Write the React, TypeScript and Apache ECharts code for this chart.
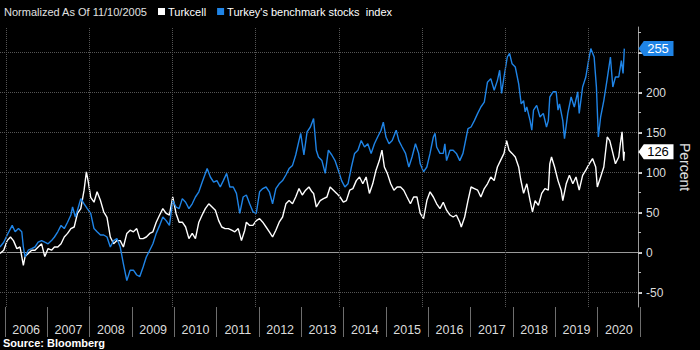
import React, { useEffect, useRef } from "react";
import * as echarts from "echarts";

const turkcellDates = [
  "2005-11-10","2005-12-13","2006-01-12","2006-02-10","2006-03-08","2006-04-07","2006-05-05","2006-06-03","2006-06-18","2006-07-16",
  "2006-08-15","2006-09-13","2006-10-11","2006-11-10","2006-12-08","2007-01-06","2007-02-05","2007-03-03","2007-04-01","2007-04-30",
  "2007-05-28","2007-06-26","2007-07-25","2007-08-23","2007-09-21","2007-10-20","2007-11-18","2007-12-08","2007-12-25","2008-01-15",
  "2008-02-13","2008-03-11","2008-04-10","2008-05-08","2008-06-06","2008-07-05","2008-08-03","2008-09-01","2008-09-30","2008-10-28",
  "2008-11-27","2008-12-26","2009-01-24","2009-02-22","2009-03-21","2009-04-19","2009-05-17","2009-06-16","2009-07-14","2009-08-12",
  "2009-09-11","2009-10-09","2009-11-07","2009-12-06","2010-01-04","2010-02-02","2010-03-01","2010-03-29","2010-04-27","2010-05-26",
  "2010-06-24","2010-07-22","2010-08-21","2010-09-19","2010-10-17","2010-11-16","2010-12-15","2011-01-13","2011-02-11","2011-03-10",
  "2011-04-08","2011-05-07","2011-06-05","2011-07-03","2011-08-02","2011-08-30","2011-09-28","2011-10-12","2011-11-10","2011-12-09",
  "2012-01-07","2012-02-05","2012-03-04","2012-04-02","2012-05-01","2012-05-29","2012-06-27","2012-07-26","2012-08-25","2012-09-23",
  "2012-10-21","2012-11-20","2012-12-18","2013-01-16","2013-02-14","2013-03-15","2013-04-13","2013-05-10","2013-05-24","2013-06-17",
  "2013-07-21","2013-08-19","2013-09-18","2013-10-16","2013-11-14","2013-12-13","2014-01-11","2014-02-09","2014-03-08","2014-04-06",
  "2014-05-04","2014-06-03","2014-07-01","2014-07-30","2014-08-28","2014-09-26","2014-10-25","2014-11-23","2014-12-22","2015-01-14",
  "2015-02-04","2015-03-02","2015-04-01","2015-04-29","2015-05-27","2015-06-26","2015-07-24","2015-08-22","2015-09-21","2015-10-19",
  "2015-11-17","2015-12-16","2016-01-14","2016-02-12","2016-03-11","2016-04-09","2016-05-08","2016-06-06","2016-07-05","2016-08-03",
  "2016-09-02","2016-09-30","2016-10-28","2016-11-27","2016-12-10","2017-01-09","2017-02-07","2017-03-06","2017-04-04","2017-05-03",
  "2017-05-31","2017-06-30","2017-07-28","2017-08-26","2017-09-25","2017-10-23","2017-11-19","2017-12-20","2018-01-12","2018-02-02",
  "2018-03-01","2018-03-29","2018-04-28","2018-05-15","2018-06-10","2018-07-08","2018-08-06","2018-08-27","2018-09-19","2018-10-18",
  "2018-11-16","2018-12-14","2019-01-13","2019-01-26","2019-02-10","2019-03-09","2019-04-08","2019-05-06","2019-05-20","2019-06-19",
  "2019-07-17","2019-08-16","2019-09-13","2019-10-11","2019-11-10","2019-12-08","2020-01-07","2020-02-05","2020-03-04","2020-03-18",
  "2020-04-16","2020-05-14","2020-06-13","2020-07-05","2020-07-26","2020-08-24","2020-09-22","2020-10-06","2020-10-21","2020-11-05",
  "2020-11-10",
];
const turkcellValues = [
  -1, 3, 15, 19.5, 15, 5, 7, -16, -5, -1,
  3, 3, 7, 11, -5, 5, 3, 7, 7, 11,
  19.5, 24, 30, 32, 49, 55, 78, 101, 88, 69,
  63, 76, 65, 51, 44, 19.5, 11, 15, 15, 7,
  24, 28, 26, 30, 17.5, 17.5, 19.5, 24, 26, 38,
  47, 55, 49, 47, 69.5, 49, 38, 38, 32, 17.5,
  24, 17.5, 38, 47, 55, 61, 57, 53, 40, 32,
  30, 30, 28, 26, 30, 15, 28, 38, 34, 34,
  40, 42.5, 38, 32, 26, 19.5, 28, 38, 44.5, 61,
  65, 61, 69.5, 80, 72, 78, 82, 76, 74, 57,
  65, 67.5, 69.5, 82, 78, 74, 69.5, 63, 65, 78,
  80, 90, 94.5, 86, 94.5, 74, 86, 103, 115, 128,
  107, 99, 86, 78, 82, 82, 78, 69.5, 61, 69.5,
  69.5, 49, 42.5, 65, 76, 69.5, 61, 55, 63, 53,
  47, 44.5, 47, 38, 32, 44.5, 65, 82, 80, 78,
  69.5, 80, 86, 94.5, 90, 107, 115, 124, 140, 128,
  124, 119.5, 107, 92, 74, 86, 65, 51, 65, 59,
  74, 80, 78, 111, 119.5, 107, 90, 78, 65, 86,
  96.6, 86, 94.5, 78, 96.6, 103, 111, 117.5, 107, 82,
  94.5, 107, 144.5, 140, 128, 111, 119.5, 136, 151, 115,
  126,
];

const indexDates = [
  "2005-11-10","2005-12-13","2006-01-12","2006-02-25","2006-03-23","2006-04-21","2006-05-20","2006-06-03","2006-06-18","2006-07-16",
  "2006-08-15","2006-09-13","2006-10-11","2006-11-10","2006-12-08","2007-01-06","2007-02-05","2007-03-03","2007-04-01","2007-04-30",
  "2007-05-28","2007-06-26","2007-07-25","2007-08-09","2007-09-02","2007-09-21","2007-10-20","2007-11-18","2007-12-16","2008-01-15",
  "2008-02-13","2008-03-11","2008-04-10","2008-05-08","2008-06-06","2008-07-05","2008-08-03","2008-09-01","2008-09-30","2008-10-28",
  "2008-11-27","2008-12-26","2009-01-24","2009-02-22","2009-03-21","2009-04-19","2009-05-17","2009-06-16","2009-07-14","2009-08-12",
  "2009-09-11","2009-10-09","2009-11-07","2009-12-06","2010-01-04","2010-02-02","2010-03-01","2010-03-29","2010-04-27","2010-05-26",
  "2010-06-24","2010-07-22","2010-08-21","2010-09-19","2010-10-17","2010-11-02","2010-11-30","2010-12-29","2011-01-27","2011-02-25",
  "2011-03-24","2011-04-22","2011-05-20","2011-06-19","2011-07-17","2011-08-15","2011-09-14","2011-10-12","2011-11-10","2011-12-09",
  "2012-01-07","2012-02-05","2012-03-04","2012-04-02","2012-05-01","2012-05-29","2012-06-27","2012-07-26","2012-08-25","2012-09-23",
  "2012-10-21","2012-11-20","2012-12-18","2013-01-16","2013-01-31","2013-02-28","2013-03-28","2013-04-26","2013-05-24","2013-06-17",
  "2013-07-06","2013-08-05","2013-09-03","2013-10-01","2013-10-31","2013-11-28","2013-12-27","2014-01-25","2014-02-23","2014-03-22",
  "2014-04-21","2014-05-19","2014-06-17","2014-07-16","2014-08-14","2014-09-12","2014-10-11","2014-11-09","2014-12-07","2015-01-06",
  "2015-01-26","2015-02-18","2015-03-17","2015-04-14","2015-05-19","2015-06-11","2015-07-10","2015-08-09","2015-09-07","2015-10-05",
  "2015-11-04","2015-12-02","2015-12-16","2016-01-14","2016-02-12","2016-03-11","2016-04-09","2016-04-24","2016-05-08","2016-06-06",
  "2016-07-05","2016-07-19","2016-08-03","2016-09-02","2016-09-30","2016-10-28","2016-11-27","2016-12-25","2017-01-23","2017-02-07",
  "2017-03-06","2017-04-04","2017-05-03","2017-05-31","2017-06-30","2017-07-28","2017-08-26","2017-09-25","2017-10-23","2017-11-12",
  "2017-11-29","2017-12-20","2018-01-18","2018-02-07","2018-03-01","2018-03-29","2018-04-28","2018-05-20","2018-06-10","2018-06-24",
  "2018-07-08","2018-08-06","2018-08-21","2018-09-05","2018-10-03","2018-11-01","2018-11-30","2018-12-28","2019-01-13","2019-01-26",
  "2019-02-24","2019-03-23","2019-04-08","2019-04-21","2019-05-20","2019-06-04","2019-07-03","2019-08-01","2019-08-29","2019-09-28",
  "2019-10-11","2019-11-10","2019-12-08","2020-01-01","2020-01-21","2020-02-19","2020-03-10","2020-03-27","2020-04-16","2020-05-14",
  "2020-06-13","2020-07-11","2020-08-01","2020-08-24","2020-09-22","2020-10-15","2020-10-30","2020-11-10",
];
const indexValues = [
  7, 13, 22, 34, 26, 30, 26, 7, -5.5, 3,
  5, 7, 13, 15, 13, 11, 15, 19.5, 26, 34,
  30, 38, 47, 57, 44.5, 53, 67.5, 61, 55, 49,
  30, 26, 22, 22, 19.5, 7, 15, 17.5, 7, -14,
  -35, -22, -22, -28, -30, -18, -5.5, 3, 11, 24,
  34, 44.5, 40, 34, 65, 57, 55, 67.5, 63, 55,
  61, 69.5, 76, 88, 99, 105, 94.5, 88, 90, 82,
  90, 99, 82, 82, 74, 49, 69.5, 72, 61, 51,
  49, 76, 80, 82, 76, 61, 80, 86, 90, 97,
  105, 109, 122, 140, 149, 122, 151, 157, 167.5, 128,
  119.5, 115, 99, 128, 122, 115, 103, 90, 82, 86,
  107, 124, 128, 140, 132, 136, 124, 136, 144.5, 153,
  163, 144.5, 136, 140, 153, 140, 132, 124, 107, 119.5,
  136, 124, 111, 101, 107, 124, 144.5, 149, 132, 124,
  124, 136, 115, 128, 128, 124, 115, 124, 144.5, 155,
  157, 165, 174, 182, 188, 213, 217.5, 203, 215, 228,
  199, 219.5, 244.5, 249, 236, 232, 211, 186, 190, 176,
  182, 165, 153, 178, 184, 169.5, 174, 157, 165, 194.5,
  201, 201, 178, 186, 165, 142.5, 174, 194.5, 182, 201,
  174, 207, 219.5, 240, 255, 244.5, 207, 144.5, 169.5, 190,
  217.5, 244.5, 207, 219.5, 219.5, 240, 224, 255,
];

const seriesNames = ["Turkcell", "Turkey's benchmark stocks  index"];
const yearLabels = ["2006","2007","2008","2009","2010","2011","2012","2013","2014","2015","2016","2017","2018","2019","2020"];
const gridYearDates = ["2006-01-01","2008-01-01","2010-01-01","2012-01-01","2014-01-01","2016-01-01","2018-01-01","2020-01-01"];
const yMajorTicks = [-50, 0, 50, 100, 150, 200, 250];
// the 250 label sits under the 255 value tag in the reference, so it is not shown
const yLabelValues = [-50, 0, 50, 100, 150, 200];
const yMinorTicks = [-50, -25, 0, 25, 50, 75, 100, 125, 150, 175, 200, 225, 250, 275];
const lastTurkcell = 126;
const lastIndex = 255;
const xMin = "2005-11-10";
const xMax = "2021-03-10";
const yMin = -68;
const yMax = 282;

const WHITE = "#ffffff";
const BLUE = "#1f84e6";
const FONT = "Liberation Sans";

const ts = (d: string) => new Date(d + "T00:00:00Z").getTime();

export default function App() {
  const ref = useRef<HTMLDivElement>(null);
  useEffect(() => {
    if (!ref.current) return;
    const chart = echarts.init(ref.current, null, { renderer: "svg" });
    const tag = (value: number, bg: string, fg: string) => ({
      coord: [ts(xMax), value],
      symbol: "path://M0,8L6,0L40,0L40,16L6,16Z",
      symbolSize: [35, 15],
      symbolOffset: [18, 0],
      itemStyle: { color: bg },
      label: {
        show: true,
        position: "inside",
        formatter: String(value),
        color: fg,
        fontSize: 13,
        fontFamily: FONT,
        offset: [2, 0],
      },
    });
    chart.setOption({
      animation: false,
      backgroundColor: "#000000",
      textStyle: { fontFamily: FONT },
      title: [
        {
          text: "Normalized As Of 11/10/2005",
          left: 4,
          top: 6,
          padding: 0,
          textStyle: { color: "#e0e0e0", fontSize: 11, fontWeight: "normal", fontFamily: FONT },
        },
        {
          text: "Source: Bloomberg",
          left: 3,
          top: 337,
          padding: 0,
          textStyle: { color: "#ffffff", fontSize: 11, fontWeight: "bold", fontFamily: FONT },
        },
      ],
      legend: {
        left: 158,
        top: 6,
        padding: 0,
        itemGap: 11,
        itemWidth: 7,
        itemHeight: 7,
        icon: "rect",
        data: seriesNames,
        textStyle: { color: "#ffffff", fontSize: 11, fontFamily: FONT, padding: [0, 0, 0, -2] },
      },
      grid: [
        { left: 0, right: 52, top: 27, bottom: 43 },
        { left: 5, right: 60, top: 306, height: 1 },
      ],
      xAxis: [
        {
          type: "time",
          gridIndex: 0,
          min: ts(xMin),
          max: ts(xMax),
          axisLine: { show: true, lineStyle: { color: "#9a9a9a", width: 1 } },
          axisTick: { show: false },
          axisLabel: { show: false },
          splitLine: { show: false },
        },
        {
          type: "category",
          gridIndex: 1,
          data: yearLabels,
          position: "bottom",
          axisLine: { show: false },
          axisTick: { show: true, interval: 0, length: 30, lineStyle: { color: "#6e6e6e", width: 1 } },
          axisLabel: { color: "#dcdcdc", fontSize: 12.5, margin: 16, interval: 0, fontFamily: FONT },
          splitLine: { show: false },
        },
      ],
      yAxis: [
        {
          type: "value",
          gridIndex: 0,
          position: "right",
          min: yMin,
          max: yMax,
          name: "Percent",
          nameLocation: "middle",
          nameRotate: -90,
          nameGap: 40,
          nameTextStyle: { color: "#e0e0e0", fontSize: 14, fontFamily: FONT },
          axisLine: { show: true, lineStyle: { color: "#9a9a9a", width: 1 } },
          axisTick: { show: true, customValues: yMajorTicks, length: 4, lineStyle: { color: "#d0d0d0", width: 2 } },
          axisLabel: { customValues: yLabelValues, color: "#dcdcdc", fontSize: 12, margin: 8, fontFamily: FONT },
          splitLine: { show: true, lineStyle: { color: "#555555", type: "dotted", width: 1 } },
        },
        {
          type: "value",
          gridIndex: 0,
          position: "right",
          min: yMin,
          max: yMax,
          axisLine: { show: false },
          axisTick: { show: true, customValues: yMinorTicks, length: 3, lineStyle: { color: "#bbbbbb", width: 1 } },
          axisLabel: { show: false },
          splitLine: { show: false },
        },
        { type: "value", gridIndex: 1, show: false },
      ],
      series: [
        {
          type: "line",
          name: "grid",
          xAxisIndex: 0,
          yAxisIndex: 0,
          data: [],
          z: 1,
          silent: true,
          markLine: {
            silent: true,
            symbol: ["none", "none"],
            label: { show: false },
            lineStyle: { color: "#555555", type: "dotted", width: 1 },
            data: gridYearDates.map((d) => ({ xAxis: ts(d) })),
          },
        },
        {
          type: "line",
          name: seriesNames[0],
          xAxisIndex: 0,
          yAxisIndex: 0,
          showSymbol: false,
          symbol: "none",
          color: WHITE,
          lineStyle: { color: WHITE, width: 1.4 },
          data: turkcellDates.map((d, i) => [ts(d), turkcellValues[i]]),
          z: 3,
          markPoint: { silent: true, data: [tag(lastTurkcell, WHITE, "#000000")] },
        },
        {
          type: "line",
          name: seriesNames[1],
          xAxisIndex: 0,
          yAxisIndex: 0,
          showSymbol: false,
          symbol: "none",
          color: BLUE,
          lineStyle: { color: BLUE, width: 1.4 },
          data: indexDates.map((d, i) => [ts(d), indexValues[i]]),
          z: 4,
          markPoint: { silent: true, data: [tag(lastIndex, BLUE, "#ffffff")] },
        },
      ],
    });
    return () => chart.dispose();
  }, []);
  return (
    <div
      ref={ref}
      style={{ position: "fixed", left: 0, top: 0, width: 700, height: 350, background: "#000" }}
    />
  );
}
